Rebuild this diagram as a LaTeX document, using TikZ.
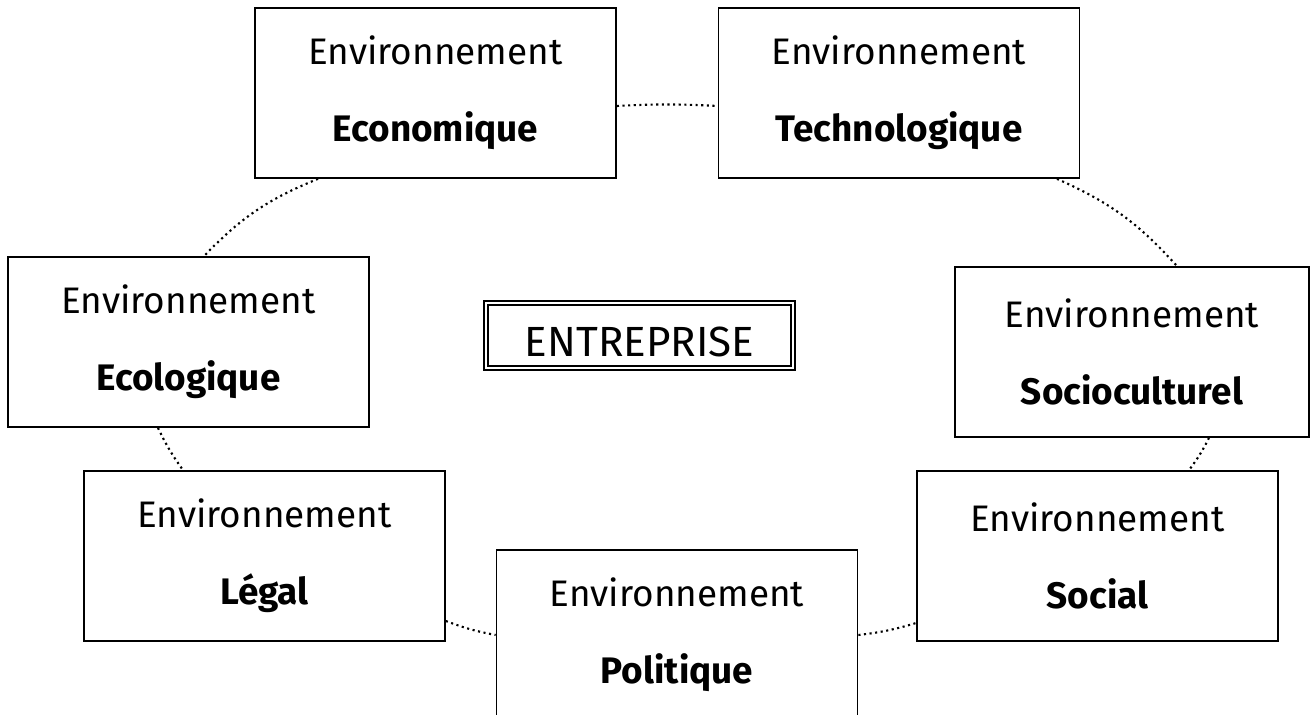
\documentclass[tikz,border=0pt]{standalone}
\usepackage{fontspec}
\setmainfont{Fira Sans}
\usepackage{tikz}
\usetikzlibrary{positioning}
\tikzstyle{envbox} = [rectangle, minimum width=7.22cm, minimum height=3.4cm, inner sep=0pt, align=center, draw=black, line width=1pt, font=\fontsize{21}{44}\selectfont]
\tikzstyle{centerbox} = [rectangle, minimum width=6.14cm, minimum height=1.3cm, text height=24pt, draw=black, double, double distance=1.6pt, line width=0.9pt, font=\fontsize{24}{28}\selectfont]
\tikzstyle{link} = [dotted, line width=1.2pt]

\begin{document}
\begin{tikzpicture}
\clip (0,0) rectangle (26.2,-14.3);
% Define nodes - the environments around the firm
\node (eco) [envbox] at (8.71,-1.86) {Environnement\\\textbf{Economique}};
\node (tech) [envbox] at (17.98,-1.86) {Environnement\\\textbf{Technologique}};
\node (ecol) [envbox] at (3.77,-6.84) {Environnement\\\textbf{Ecologique}};
\node (socio) [envbox, minimum width=7.08cm] at (22.64,-7.04) {Environnement\\\textbf{Socioculturel}};
\node (legal) [envbox] at (5.29,-11.12) {Environnement\\\textbf{Légal}};
\node (poli) [envbox] at (13.54,-12.7) {Environnement\\\textbf{Politique}};
\node (social) [envbox] at (21.95,-11.12) {Environnement\\\textbf{Social}};
\node (ent) [centerbox] at (12.79,-6.71) {ENTREPRISE};

% Dotted ring linking the boxes
\draw [link, bend left=3] ([yshift=-0.26cm]eco.east) to ([yshift=-0.26cm]tech.west);
\draw [link, bend right=12] ([xshift=-2.35cm]eco.south) to ([xshift=0.31cm]ecol.north);
\draw [link, bend left=12] ([xshift=3.16cm]tech.south) to ([xshift=0.9cm]socio.north);
\draw [link, bend right=5] ([xshift=-0.61cm]ecol.south) to ([xshift=-1.63cm]legal.north);
\draw [link, bend left=5] ([xshift=1.54cm]socio.south) to ([xshift=1.83cm]social.north);
\draw [link, bend right=5] ([yshift=-1.3cm]legal.east) to (poli.west);
\draw [link, bend right=5] (poli.east) to ([yshift=-1.34cm]social.west);
\end{tikzpicture}
\end{document}
